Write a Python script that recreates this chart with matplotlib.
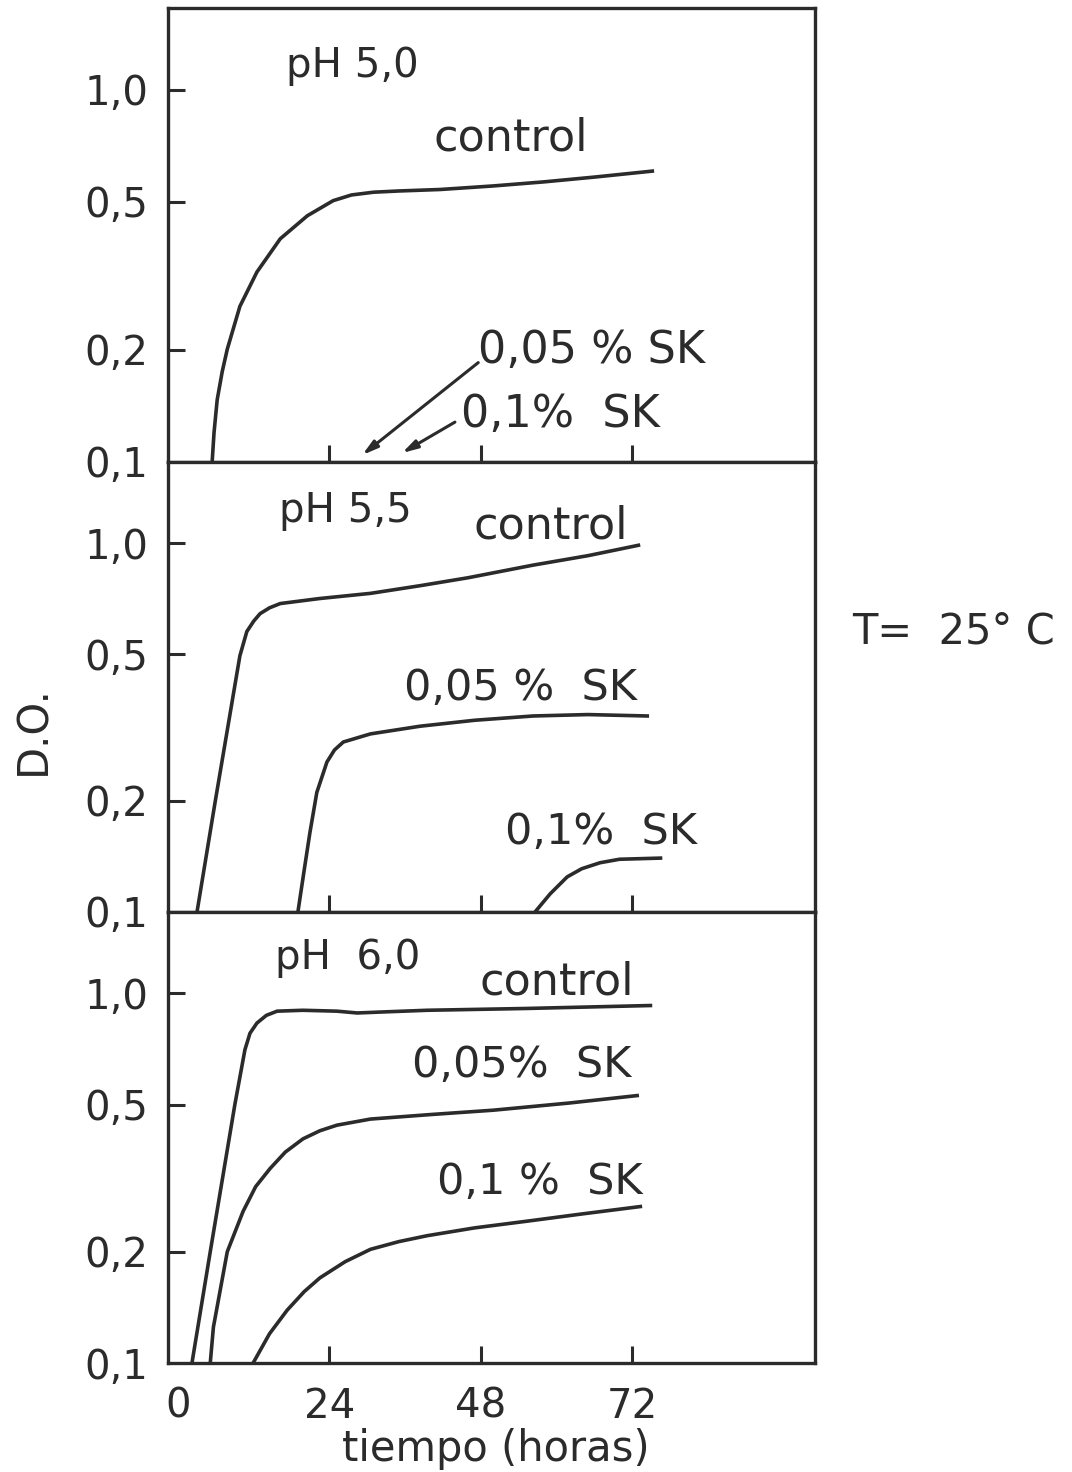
import matplotlib
matplotlib.use("Agg")
import matplotlib.pyplot as plt

W, H = 1072, 1472
INK = "#2b2b2b"

# curves: (hours, D.O.)
ph50_control_t = [5.4, 5.7, 6.2, 7.0, 7.8, 9.8, 12.5, 16.2, 20.5, 24.6, 27.5, 31.0, 35.0, 41.6, 50.0, 58.0, 66.0, 75.2]
ph50_control_y = [0.10, 0.12, 0.147, 0.175, 0.201, 0.262, 0.324, 0.398, 0.459, 0.504, 0.522, 0.531, 0.535, 0.540, 0.552, 0.566, 0.583, 0.605]

ph55_control_t = [3.0, 5.9, 9.8, 10.9, 12.0, 13.0, 14.5, 16.2, 22.5, 30.5, 38.4, 46.0, 56.3, 65.0, 73.0]
ph55_control_y = [0.10, 0.20, 0.495, 0.576, 0.615, 0.644, 0.668, 0.686, 0.708, 0.731, 0.767, 0.806, 0.872, 0.925, 0.987]
ph55_sk005_t = [19.0, 20.0, 20.9, 22.0, 23.6, 24.8, 26.2, 30.5, 38.4, 47.0, 56.3, 65.0, 74.4]
ph55_sk005_y = [0.10, 0.13, 0.164, 0.211, 0.255, 0.275, 0.289, 0.304, 0.319, 0.331, 0.340, 0.343, 0.340]
ph55_sk01_t = [56.6, 59.0, 61.7, 64.0, 66.9, 70.0, 76.5]
ph55_sk01_y = [0.10, 0.112, 0.1245, 0.131, 0.136, 0.139, 0.140]

ph60_control_t = [2.2, 5.1, 9.0, 10.6, 11.4, 12.5, 14.0, 15.7, 19.8, 25.2, 28.4, 32.0, 39.5, 55.0, 74.9]
ph60_control_y = [0.10, 0.20, 0.50, 0.704, 0.78, 0.831, 0.872, 0.895, 0.90, 0.895, 0.885, 0.89, 0.90, 0.91, 0.927]
ph60_sk005_t = [5.1, 5.6, 7.8, 10.3, 12.3, 14.6, 17.0, 19.8, 22.5, 25.2, 30.5, 40.0, 50.0, 62.0, 72.8]
ph60_sk005_y = [0.10, 0.125, 0.20, 0.257, 0.30, 0.336, 0.372, 0.404, 0.425, 0.44, 0.457, 0.47, 0.483, 0.505, 0.529]
ph60_sk01_t = [11.9, 14.5, 17.3, 20.0, 22.5, 26.5, 30.5, 35.0, 39.5, 47.0, 55.4, 64.0, 73.3]
ph60_sk01_y = [0.10, 0.12, 0.139, 0.156, 0.170, 0.188, 0.203, 0.213, 0.221, 0.232, 0.242, 0.253, 0.265]

y_ticks = [0.1, 0.2, 0.5, 1.0]
y_ticklabels = ["0,1", "0,2", "0,5", "1,0"]
x_ticks = [0, 24, 48, 72]
x_ticklabels = ["0", "24", "48", "72"]


def fx(x):
    return x / W


def fy(y):
    return 1 - y / H


plt.rcParams["font.family"] = "DejaVu Sans"
fig = plt.figure(figsize=(W / 100, H / 100), dpi=100)
fig.patch.set_facecolor("white")

# panel frames in pixels: (top, bottom)
frames = [(8, 462), (462, 912), (912, 1363)]
axes = []
for i, (top, bot) in enumerate(frames):
    ax = fig.add_axes([fx(168), fy(bot), fx(815 - 168), (bot - top) / H])
    ax.set_yscale("log")
    ax.set_xlim(-1.6, 101)
    ax.set_ylim(0.1, 1.66)
    ax.set_yticks(y_ticks)
    ax.set_yticklabels(y_ticklabels)
    ax.yaxis.set_minor_locator(plt.NullLocator())
    ax.tick_params(axis="y", direction="in", length=12, width=2.2, pad=14,
                   labelsize=29, colors=INK)
    ax.yaxis.get_major_ticks()[0].tick1line.set_visible(False)
    if i == 2:
        ax.set_xticks(x_ticks)
        ax.set_xticklabels(x_ticklabels)
        ax.xaxis.get_major_ticks()[0].tick1line.set_visible(False)
    else:
        ax.set_xticks(x_ticks[1:])
        ax.set_xticklabels([])
    ax.tick_params(axis="x", direction="in", length=12, width=2.2, pad=17,
                   labelsize=29, colors=INK)
    for s in ax.spines.values():
        s.set_linewidth(2.4)
        s.set_color(INK)
    axes.append(ax)

lw = 2.6
ax1, ax2, ax3 = axes
ax1.plot(ph50_control_t, ph50_control_y, color=INK, lw=lw)
ax2.plot(ph55_control_t, ph55_control_y, color=INK, lw=lw)
ax2.plot(ph55_sk005_t, ph55_sk005_y, color=INK, lw=lw)
ax2.plot(ph55_sk01_t, ph55_sk01_y, color=INK, lw=lw)
ax3.plot(ph60_control_t, ph60_control_y, color=INK, lw=lw)
ax3.plot(ph60_sk005_t, ph60_sk005_y, color=INK, lw=lw)
ax3.plot(ph60_sk01_t, ph60_sk01_y, color=INK, lw=lw)

# arrows in the pH 5,0 panel
arrow = dict(arrowstyle="-|>,head_length=0.9,head_width=0.25", color=INK, lw=2.2,
             shrinkA=0, shrinkB=0)
ax1.annotate("", xy=(29.2, 0.1044), xytext=(47.6, 0.185), arrowprops=arrow)
ax1.annotate("", xy=(35.5, 0.1057), xytext=(43.9, 0.128), arrowprops=arrow)

labels = [
    ("pH 5,0", 352, 66, 29), ("control", 511, 138, 32),
    ("0,05 % SK", 591, 350, 32), ("0,1%  SK", 560, 415, 32),
    ("pH 5,5", 345, 511, 29), ("control", 551, 526, 32),
    ("0,05 %  SK", 520, 688, 31), ("0,1%  SK", 601, 832, 31),
    ("pH  6,0", 348, 958, 29), ("control", 557, 982, 32),
    ("0,05%  SK", 522, 1065, 31), ("0,1 %  SK", 540, 1182, 31),
    ("T=  25° C", 953, 632, 30),
]
for txt, x, y, fs in labels:
    fig.text(fx(x), fy(y), txt, fontsize=fs, color=INK, ha="center", va="center")

fig.text(fx(33), fy(730), "D.O.", fontsize=30, color=INK, rotation=90,
         ha="center", va="center")
fig.text(fx(496), fy(1461), "tiempo (horas)", fontsize=30, color=INK,
         ha="center", va="baseline")

fig.savefig("out.png", dpi=100, facecolor="white")
